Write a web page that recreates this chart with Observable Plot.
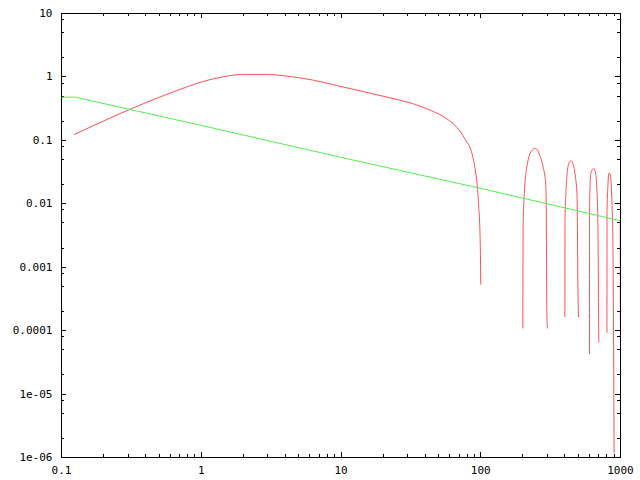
<!DOCTYPE html>
<html>
<head>
<meta charset="utf-8">
<script src="https://cdn.jsdelivr.net/npm/d3@7"></script>
<script src="https://cdn.jsdelivr.net/npm/@observablehq/plot@0.6"></script>
<style>
  html, body { margin: 0; padding: 0; background: #ffffff; }
</style>
</head>
<body>
<div id="chart"></div>
<script>
// ---- Data ----
const xTicks = [0.1, 1, 10, 100, 1000];
const xTickLabels = ["0.1", "1", "10", "100", "1000"];
const yTicks = [10, 1, 0.1, 0.01, 0.001, 0.0001, 1e-5, 1e-6];
const yTickLabels = ["10", "1", "0.1", "0.01", "0.001", "0.0001", "1e-05", "1e-06"];
const xMinorMultipliers = [2, 3, 4, 5, 6, 7, 8, 9];
const yMinorMultipliers = [2, 5, 8];

// green series
const greenX = [0.1, 0.125, 1, 10, 100, 1000];
const greenY = [0.48, 0.48, 0.172, 0.054, 0.0175, 0.0054];

// red series (null = break in the line, where the values go negative)
const redX = [
  0.124, 0.307, 0.702, 0.975, 1.36, 1.94, 3.0, 4.31, 6.33, 9.3, 13.7, 21.3, 31.2, 43.5, 57.3, 67.5, 77.4, 86.5, 91.4, 94, 96.4, 99.1, 100,
  null,
  200, 201, 205, 211, 217, 223, 233, 246, 257, 264, 272, 279, 287, 292, 294, 297, 300,
  null,
  400, 401, 408, 415, 427, 440, 451, 463, 476, 489, 496, 500,
  null,
  600, 601, 613, 630, 645, 665, 677, 686, 692, 697, 700,
  null,
  800, 801, 811, 825, 840, 855, 868, 882, 900,
  null,
  995, 1000
];
const redY = [
  0.124, 0.307, 0.634, 0.818, 0.981, 1.09, 1.09, 1.017, 0.889, 0.733, 0.603, 0.48, 0.39, 0.299, 0.218, 0.16, 0.1035, 0.0622, 0.034, 0.0209, 0.0101, 0.0025, 0.00054,
  null,
  0.00011, 0.0049, 0.0146, 0.032, 0.046, 0.0585, 0.070, 0.0746, 0.0684, 0.0585, 0.0488, 0.0383, 0.0283, 0.0197, 0.0107, 0.00021, 0.00011,
  null,
  0.000166, 0.0054, 0.0164, 0.030, 0.0433, 0.0476, 0.0459, 0.0383, 0.0266, 0.0129, 0.00044, 0.000166,
  null,
  0.000043, 0.0107, 0.030, 0.0348, 0.036, 0.030, 0.0175, 0.0079, 0.002, 0.00013, 0.000066,
  null,
  0.000094, 0.0079, 0.0175, 0.030, 0.030, 0.0236, 0.0107, 0.0027, 0.0000012,
  null,
  0.0055, 0.000024
];

// ---- Build tables for Plot ----
const green = greenX.map((x, i) => ({x, y: greenY[i]}));
const red = redX.map((x, i) => ({x, y: redY[i]}));
const xMinor = xTicks.slice(0, -1).flatMap(t => xMinorMultipliers.map(m => t * m));
const yMinor = yTicks.slice(1).flatMap(t => yMinorMultipliers.map(m => t * m));

const W = 640, H = 480;
const mL = 61, mR = 20, mT = 13, mB = 23;
const innerW = W - mL - mR, innerH = H - mT - mB;
const MAJ = 5, MIN = 3;
const font = "DejaVu Sans Mono";
const tickStyle = {stroke: "black", strokeWidth: 1, shapeRendering: "crispEdges"};

const chart = Plot.plot({
  width: W,
  height: H,
  marginLeft: mL,
  marginRight: mR,
  marginTop: mT,
  marginBottom: mB,
  x: {type: "log", domain: [0.1, 1000], axis: null},
  y: {type: "log", domain: [1e-6, 10], axis: null},
  style: {background: "white"},
  marks: [
    // ticks (inward, mirrored on all four sides)
    Plot.ruleX(xTicks, {...tickStyle, insetTop: innerH - MAJ}),
    Plot.ruleX(xTicks, {...tickStyle, insetBottom: innerH - MAJ}),
    Plot.ruleX(xMinor, {...tickStyle, insetTop: innerH - MIN}),
    Plot.ruleX(xMinor, {...tickStyle, insetBottom: innerH - MIN}),
    Plot.ruleY(yTicks, {...tickStyle, insetRight: innerW - MAJ}),
    Plot.ruleY(yTicks, {...tickStyle, insetLeft: innerW - MAJ}),
    Plot.ruleY(yMinor, {...tickStyle, insetRight: innerW - MIN}),
    Plot.ruleY(yMinor, {...tickStyle, insetLeft: innerW - MIN}),
    // series
    Plot.line(red, {x: "x", y: "y", stroke: "#ff5050", strokeWidth: 1, curve: "monotone-x"}),
    Plot.line(green, {x: "x", y: "y", stroke: "#50f050", strokeWidth: 1, curve: "linear"}),
    // border
    Plot.frame({stroke: "black", strokeWidth: 1, shapeRendering: "crispEdges"}),
    // tick labels
    Plot.text(yTicks, {
      y: d => d,
      text: (d, i) => yTickLabels[i],
      frameAnchor: "left",
      textAnchor: "end",
      lineAnchor: "middle",
      dx: -9,
      fontFamily: font,
      fontSize: 11,
      fill: "black"
    }),
    Plot.text(xTicks, {
      x: d => d,
      text: (d, i) => xTickLabels[i],
      frameAnchor: "bottom",
      textAnchor: "middle",
      lineAnchor: "middle",
      dy: 13,
      fontFamily: font,
      fontSize: 11,
      fill: "black"
    })
  ]
});

document.getElementById("chart").appendChild(chart);
</script>
</body>
</html>
